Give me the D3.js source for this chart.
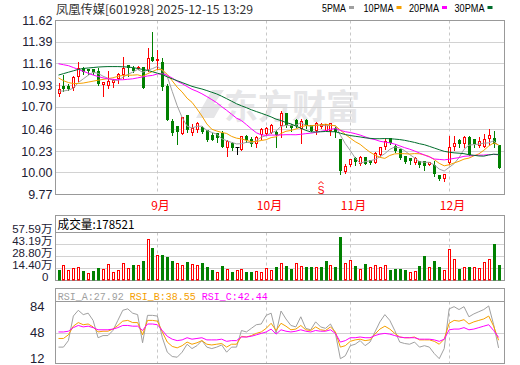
<!DOCTYPE html>
<html>
<head>
<meta charset="utf-8">
<script src="https://cdn.jsdelivr.net/npm/d3@7/dist/d3.min.js"></script>
<style>
  body { margin: 0; background: #fff; }
  svg { display: block; }
  text { font-family: "Liberation Sans", Arial, "Noto Sans CJK SC", sans-serif; }
</style>
</head>
<body>
<svg id="chart" width="520" height="365"></svg>
<script>
// daily candles, 2025-08-04 .. 2025-12-15
const open = [10.84, 10.916, 10.92, 10.91, 11.02, 11.108, 11.10, 11.10, 11.073, 10.935,
  10.93, 10.96, 11.007, 11.05, 11.14, 11.11, 11.11, 11.12, 11.10, 11.223,
  11.20, 11.17, 10.92, 10.55, 10.49, 10.415, 10.61, 10.43, 10.46, 10.48,
  10.45, 10.40, 10.415, 10.42, 10.27, 10.31, 10.275, 10.245, 10.39, 10.36,
  10.31, 10.41, 10.42, 10.43, 10.43, 10.50, 10.627, 10.50, 10.56, 10.47,
  10.56, 10.50, 10.45, 10.49, 10.45, 10.45, 10.47, 10.35, 10.01, 10.085,
  10.155, 10.096, 10.16, 10.13, 10.113, 10.19, 10.28, 10.362, 10.28, 10.245,
  10.174, 10.15, 10.114, 10.124, 10.124, 10.09, 10.078, 9.97, 9.937, 10.11,
  10.28, 10.344, 10.31, 10.38, 10.35, 10.29, 10.28, 10.362, 10.362, 10.29]
const high = [10.96, 11.04, 10.95, 11.03, 11.18, 11.125, 11.10, 11.10, 11.12, 10.96,
  11.08, 11.00, 11.065, 11.23, 11.14, 11.135, 11.135, 11.13, 11.33, 11.495,
  11.31, 11.22, 10.945, 10.575, 10.50, 10.59, 10.62, 10.52, 10.54, 10.50,
  10.46, 10.42, 10.42, 10.45, 10.35, 10.33, 10.28, 10.39, 10.40, 10.38,
  10.39, 10.48, 10.49, 10.515, 10.46, 10.66, 10.635, 10.52, 10.57, 10.575,
  10.57, 10.51, 10.54, 10.53, 10.52, 10.53, 10.49, 10.36, 10.095, 10.15,
  10.17, 10.18, 10.17, 10.135, 10.22, 10.28, 10.36, 10.365, 10.31, 10.25,
  10.18, 10.155, 10.167, 10.13, 10.13, 10.12, 10.13, 9.98, 9.99, 10.39,
  10.397, 10.36, 10.397, 10.39, 10.36, 10.38, 10.415, 10.468, 10.45, 10.30]
const low = [10.82, 10.87, 10.88, 10.88, 10.98, 11.05, 11.055, 11.05, 10.93, 10.82,
  10.90, 10.91, 10.96, 11.01, 11.03, 11.07, 11.10, 10.90, 11.08, 11.19,
  11.10, 10.885, 10.565, 10.40, 10.31, 10.41, 10.43, 10.40, 10.43, 10.42,
  10.34, 10.345, 10.33, 10.27, 10.175, 10.24, 10.196, 10.24, 10.33, 10.29,
  10.27, 10.36, 10.40, 10.42, 10.27, 10.38, 10.485, 10.45, 10.49, 10.32,
  10.48, 10.44, 10.415, 10.48, 10.44, 10.40, 10.38, 9.99, 10.00, 10.07,
  10.08, 10.08, 10.09, 10.09, 10.10, 10.18, 10.255, 10.31, 10.22, 10.15,
  10.11, 10.09, 10.096, 10.06, 10.03, 10.08, 9.97, 9.92, 9.91, 10.09,
  10.24, 10.28, 10.28, 10.195, 10.28, 10.27, 10.27, 10.31, 10.28, 10.05]
const close = [10.885, 10.895, 10.90, 11.01, 11.108, 11.08, 11.085, 11.065, 10.95, 10.96,
  10.97, 10.985, 11.05, 11.11, 11.12, 11.09, 11.125, 10.91, 11.216, 11.198,
  11.21, 10.92, 10.57, 10.43, 10.44, 10.585, 10.46, 10.47, 10.52, 10.445,
  10.36, 10.355, 10.38, 10.28, 10.337, 10.27, 10.275, 10.39, 10.355, 10.31,
  10.38, 10.46, 10.475, 10.50, 10.41, 10.63, 10.51, 10.48, 10.50, 10.55,
  10.50, 10.45, 10.53, 10.515, 10.51, 10.52, 10.44, 10.02, 10.065, 10.14,
  10.125, 10.166, 10.10, 10.11, 10.209, 10.27, 10.337, 10.326, 10.238, 10.16,
  10.12, 10.13, 10.15, 10.089, 10.078, 10.114, 9.99, 9.937, 9.979, 10.27,
  10.316, 10.31, 10.38, 10.20, 10.31, 10.33, 10.36, 10.397, 10.31, 10.06]

// moving averages as drawn
const ma5 = [10.87, 10.87, 10.88, 10.90, 10.96, 10.999, 11.037, 11.07, 11.058, 11.028,
  11.006, 10.986, 10.983, 11.015, 11.047, 11.071, 11.099, 11.071, 11.092, 11.108,
  11.132, 11.091, 11.023, 10.866, 10.714, 10.589, 10.497, 10.477, 10.495, 10.496,
  10.451, 10.43, 10.412, 10.364, 10.342, 10.324, 10.308, 10.31, 10.325, 10.32,
  10.342, 10.379, 10.396, 10.425, 10.445, 10.495, 10.505, 10.506, 10.506, 10.534,
  10.508, 10.496, 10.506, 10.509, 10.501, 10.505, 10.503, 10.401, 10.311, 10.237,
  10.158, 10.103, 10.119, 10.128, 10.142, 10.171, 10.205, 10.25, 10.276, 10.266,
  10.236, 10.195, 10.16, 10.118, 10.113, 10.112, 10.084, 10.04, 10.02, 10.058,
  10.098, 10.162, 10.25, 10.295, 10.30, 10.306, 10.316, 10.319, 10.341, 10.291]
const ma10 = [11.01, 10.98, 10.96, 10.95, 10.95, 10.955, 10.965, 10.975, 10.985, 10.994,
  11.002, 11.011, 11.026, 11.036, 11.038, 11.039, 11.043, 11.027, 11.054, 11.077,
  11.101, 11.095, 11.047, 10.979, 10.911, 10.860, 10.794, 10.750, 10.680, 10.605,
  10.520, 10.464, 10.445, 10.430, 10.419, 10.388, 10.369, 10.361, 10.345, 10.331,
  10.333, 10.344, 10.353, 10.375, 10.383, 10.419, 10.442, 10.451, 10.466, 10.490,
  10.502, 10.501, 10.506, 10.508, 10.518, 10.507, 10.500, 10.454, 10.410, 10.369,
  10.332, 10.303, 10.260, 10.220, 10.190, 10.165, 10.154, 10.185, 10.202, 10.204,
  10.204, 10.200, 10.205, 10.203, 10.190, 10.174, 10.140, 10.101, 10.075, 10.086,
  10.105, 10.123, 10.146, 10.157, 10.181, 10.202, 10.239, 10.285, 10.318, 10.297]
const ma20 = [11.16, 11.15, 11.14, 11.12, 11.10, 11.08, 11.06, 11.04, 11.025, 11.01,
  11.0, 10.995, 10.99, 10.99, 10.995, 11.0, 11.01, 11.02, 11.03, 11.036,
  11.052, 11.053, 11.037, 11.008, 10.974, 10.949, 10.918, 10.888, 10.867, 10.841,
  10.811, 10.779, 10.746, 10.704, 10.665, 10.624, 10.582, 10.556, 10.513, 10.468,
  10.427, 10.404, 10.399, 10.402, 10.401, 10.403, 10.406, 10.406, 10.405, 10.410,
  10.417, 10.422, 10.430, 10.441, 10.450, 10.463, 10.471, 10.452, 10.438, 10.429,
  10.417, 10.402, 10.383, 10.364, 10.354, 10.336, 10.327, 10.319, 10.306, 10.287,
  10.268, 10.252, 10.233, 10.211, 10.190, 10.169, 10.147, 10.143, 10.138, 10.145,
  10.154, 10.162, 10.176, 10.180, 10.185, 10.188, 10.189, 10.193, 10.197, 10.192]
const ma30 = [11.04, 11.055, 11.07, 11.085, 11.10, 11.11, 11.115, 11.12, 11.125, 11.128,
  11.13, 11.13, 11.13, 11.128, 11.125, 11.12, 11.11, 11.10, 11.09, 11.075,
  11.06, 11.045, 11.02, 11.0, 10.98, 10.96, 10.94, 10.92, 10.905, 10.892,
  10.875, 10.857, 10.839, 10.815, 10.789, 10.762, 10.735, 10.713, 10.693, 10.671,
  10.652, 10.634, 10.615, 10.595, 10.571, 10.556, 10.535, 10.521, 10.497, 10.475,
  10.452, 10.436, 10.435, 10.437, 10.440, 10.438, 10.437, 10.422, 10.407, 10.397,
  10.389, 10.382, 10.373, 10.367, 10.363, 10.363, 10.365, 10.363, 10.359, 10.354,
  10.346, 10.335, 10.324, 10.310, 10.299, 10.282, 10.264, 10.246, 10.229, 10.220,
  10.213, 10.209, 10.204, 10.193, 10.187, 10.180, 10.178, 10.190, 10.198, 10.196]

// volume in 万 shares, colour read per bar (r = up, g = down)
const vol = [12, 18, 12, 14, 15, 11, 8, 11, 14, 13,
  19, 9, 12, 20, 14, 18, 18, 23, 49, 38,
  30, 30, 27, 23, 20, 18, 21, 19, 18, 20,
  16, 12, 9, 17, 13, 9, 12, 13, 9, 9,
  11, 9.3, 14, 12, 15, 20, 17, 13, 20, 17,
  15, 16, 16, 15, 23, 18, 16, 52, 20, 24,
  17, 13, 19, 15, 18, 16, 18, 12, 13, 13,
  12, 9, 11, 17, 29, 15, 23, 16, 12, 37,
  25, 13, 15, 16, 15, 14, 21, 25, 43, 17.85]
const volDir = 'grrrrgrggr' + 'rrrrrgrgrg' + 'rgggrrgrrg' + 'ggrgrgrrgg' + 'rrrrgrggrr' +
  'ggrggrggrr' + 'grgrrrrggg' + 'grrggrggrr' + 'rgrgrrrrgg'

// RSI lines
const rsiA = [29, 29, 38, 72, 80, 74, 76, 66, 42, 45,
  45, 52, 66, 80, 82, 76, 74, 35, 73, 73,
  72, 42, 22, 16, 15, 22, 33, 27, 31, 38,
  29, 27, 29, 32, 22, 29, 29, 52, 50, 55,
  60, 61, 73, 76, 48, 79, 68, 59, 57, 71,
  55, 53, 64, 57, 55, 61, 48, 13, 17, 31,
  33, 38, 31, 36, 50, 64, 74, 66, 52, 36,
  34, 33, 36, 29, 31, 29, 20, 13, 27, 82,
  85, 81, 85, 71, 75, 78, 81, 86, 60, 27.92]
const rsiB = [41, 41, 46, 58, 63, 60, 61, 57, 50, 51,
  51, 54, 59, 65, 66, 63, 63, 46, 66, 66,
  65, 50, 36, 30, 28, 31, 36, 33, 35, 38,
  33, 32, 33, 34, 29, 33, 33, 44, 43, 45,
  48, 50, 55, 62, 52, 62, 58, 53, 54, 59,
  53, 52, 57, 53, 52, 57, 50, 29, 31, 37,
  39, 40, 38, 39, 47, 54, 58, 54, 48, 43,
  42, 42, 43, 39, 39, 39, 37, 33, 40, 62,
  66, 65, 67, 61, 64, 66, 68, 72, 58, 38.55]
const rsiC = [50, 50, 51, 56, 59, 57, 58, 56, 53, 53,
  53, 54, 56, 59, 59, 58, 58, 52, 61, 61,
  60, 52, 44, 40, 38, 39, 42, 40, 41, 42,
  39, 39, 39, 40, 37, 38, 38, 43, 43, 44,
  46, 48, 50, 54, 47, 53, 51, 50, 51, 53,
  51, 50, 52, 51, 51, 53, 48, 36, 38, 42,
  42, 43, 42, 42, 45, 47, 48, 47, 45, 43,
  42, 42, 42, 40, 40, 40, 39, 37, 40, 53,
  54, 54, 56, 53, 54, 56, 58, 60, 52, 42.44]

// axes
const months = ['9月', '10月', '11月', '12月']
const monthIdx = [20, 42, 59, 79]
const priceTicks = [11.62, 11.39, 11.16, 10.93, 10.70, 10.46, 10.23, 10.00, 9.77]
const volTicks = [57.59, 43.19, 28.80, 14.40, 0]
const rsiTicks = [84, 48, 12]
const maNames = ['5PMA', '10PMA', '20PMA', '30PMA']
const lastVol = 178521

const RED = '#ff0000', GREEN = '#008000'
const maColors = ['#a0a0a0', '#f5a000', '#ff00ff', '#006d2c']
const rsiColors = ['#a0a0a0', '#f5a000', '#ff00ff']

const svg = d3.select('#chart')
const L = 55, R = 505
const x = d3.scalePoint().domain(d3.range(close.length)).range([58.5, 498.6])
const px = i => Math.round(x(i)) + 0.5
const snap = v => Math.round(v - 0.5) + 0.5
const y = d3.scaleLinear().domain([9.77, 11.62]).range([194.5, 20.5])
const yv = d3.scaleLinear().domain([0, 57.59]).range([280.5, 232.5])
const yr = d3.scaleLinear().domain([12, 84]).range([359.4, 307.4])

// watermark
const wm = svg.append('g').attr('fill', '#e6e6e8')
wm.append('path').attr('d', 'M196,118 L212,90 L224,90 L214,104 L222,104 L214,118 Z')
wm.append('text').attr('x', 224).attr('y', 119)
  .style('font-family', '"Noto Sans CJK SC"').style('font-weight', 700)
  .attr('font-size', 34).text('东方财富')

// grids
const grid = svg.append('g').attr('stroke', '#d2d2d2').attr('stroke-width', 1)
priceTicks.slice(1, -1).forEach(v => {
  grid.append('line').attr('x1', L).attr('x2', R).attr('y1', snap(y(v))).attr('y2', snap(y(v)))
})
volTicks.slice(1, -1).forEach(v => {
  grid.append('line').attr('x1', L).attr('x2', R).attr('y1', snap(yv(v))).attr('y2', snap(yv(v)))
})
grid.append('line').attr('x1', L).attr('x2', R).attr('y1', snap(yr(48))).attr('y2', snap(yr(48)))
const vgrid = svg.append('g').attr('stroke', '#c8c8c8').attr('stroke-dasharray', '3,3')
monthIdx.forEach(i => {
  [[20.5, 194.5], [232.5, 280.5], [301.5, 363.5]].forEach(r => {
    vgrid.append('line').attr('x1', px(i)).attr('x2', px(i)).attr('y1', r[0]).attr('y2', r[1])
  })
})

// frames
const frame = svg.append('g').attr('fill', 'none').attr('stroke', '#999')
frame.append('rect').attr('x', L + 0.5).attr('y', 20.5).attr('width', R - L - 1).attr('height', 174)
frame.append('rect').attr('x', L + 0.5).attr('y', 215.5).attr('width', R - L - 1).attr('height', 65)
frame.append('line').attr('x1', L).attr('x2', R).attr('y1', 232.5).attr('y2', 232.5)
frame.append('rect').attr('x', L + 0.5).attr('y', 288.5).attr('width', R - L - 1).attr('height', 75)
frame.append('line').attr('x1', L).attr('x2', R).attr('y1', 301.5).attr('y2', 301.5)

// candles
const candles = svg.append('g')
close.forEach((c, i) => {
  const o = open[i]
  const col = c > o ? RED : (c < o ? GREEN : '#000')
  const cx = px(i)
  candles.append('line').attr('x1', cx).attr('x2', cx)
    .attr('y1', Math.round(y(high[i]))).attr('y2', Math.round(y(low[i])) + 1).attr('stroke', col)
  const top = snap(y(Math.max(o, c))), bot = snap(y(Math.min(o, c)))
  if (c > o) {
    candles.append('rect').attr('x', cx - 1).attr('y', top).attr('width', 2)
      .attr('height', Math.max(bot - top, 1)).attr('fill', '#fff').attr('stroke', RED)
  } else if (c < o) {
    candles.append('rect').attr('x', cx - 1.5).attr('y', top - 0.5).attr('width', 3)
      .attr('height', Math.max(bot - top + 1, 1)).attr('fill', GREEN)
  } else {
    candles.append('line').attr('x1', cx - 2).attr('x2', cx + 2).attr('y1', top).attr('y2', top)
      .attr('stroke', '#000')
  }
})

// moving averages
const maLine = d3.line().x((d, i) => x(i)).y(d => y(d))
;[ma5, ma10, ma20, ma30].forEach((s, k) => {
  svg.append('path').datum(s).attr('d', maLine).attr('fill', 'none')
    .attr('stroke', maColors[k]).attr('stroke-width', 1)
})

// volume bars
const vb = svg.append('g')
vol.forEach((v, i) => {
  const cx = px(i), top = snap(yv(v))
  if (volDir[i] === 'r') {
    vb.append('rect').attr('x', cx - 1).attr('y', top).attr('width', 2)
      .attr('height', 280 - top).attr('fill', '#fff').attr('stroke', RED)
  } else {
    vb.append('rect').attr('x', cx - 1.5).attr('y', top - 0.5).attr('width', 3)
      .attr('height', 281 - top).attr('fill', GREEN)
  }
})

// rsi lines
const rsiLine = d3.line().x((d, i) => x(i)).y(d => yr(d))
;[rsiA, rsiB, rsiC].forEach((s, k) => {
  svg.append('path').datum(s).attr('d', rsiLine).attr('fill', 'none')
    .attr('stroke', rsiColors[k]).attr('stroke-width', 1)
})

// signal mark
svg.append('path').attr('d', 'M318.5,184 L321,181.5 L323.5,184').attr('fill', 'none').attr('stroke', RED)
svg.append('text').attr('x', 321).attr('y', 193.5).attr('text-anchor', 'middle')
  .attr('font-size', 10).attr('fill', RED).text('S')

// axis labels
const lab = svg.append('g').attr('fill', '#1c2033')
priceTicks.forEach(v => {
  lab.append('text').attr('x', 52.5).attr('y', y(v) + 4.3).attr('text-anchor', 'end')
    .attr('font-size', 12.5).text(v.toFixed(2))
})
volTicks.forEach(v => {
  lab.append('text').attr('x', v === 0 ? 48.5 : 52.5).attr('y', yv(v) + 0.8).attr('text-anchor', 'end')
    .attr('font-size', 11.5).text(v === 0 ? '0' : v.toFixed(2) + '万')
})
rsiTicks.forEach(v => {
  lab.append('text').attr('x', 44.5).attr('y', yr(v) + 3.3).attr('text-anchor', 'end')
    .attr('font-size', 13).text(v)
})
monthIdx.forEach((i, k) => {
  svg.append('text').attr('x', px(i) + 3).attr('y', 210).attr('text-anchor', 'middle')
    .style('font-family', '"Noto Sans CJK SC"').attr('font-size', 12).attr('fill', RED).text(months[k])
})

// title and legends
svg.append('text').attr('x', 56).attr('y', 13.5).style('font-family', '"Noto Sans CJK SC"')
  .attr('font-size', 12).attr('fill', '#333').attr('textLength', 197).attr('lengthAdjust', 'spacingAndGlyphs')
  .text('凤凰传媒[601928] 2025-12-15 13:29')
const legX = [322, 363.5, 409, 454.5]
maNames.forEach((n, k) => {
  const w = n.length * 6
  svg.append('text').attr('x', legX[k]).attr('y', 12).attr('font-size', 11).attr('fill', '#000')
    .attr('textLength', w).attr('lengthAdjust', 'spacingAndGlyphs').text(n)
  svg.append('rect').attr('x', legX[k] + w + 3).attr('y', 6).attr('width', 5).attr('height', 3)
    .attr('fill', maColors[k])
})
svg.append('text').attr('x', 57.5).attr('y', 229).style('font-family', '"Noto Sans CJK SC"')
  .attr('font-size', 12).attr('fill', '#000').attr('textLength', 77).attr('lengthAdjust', 'spacingAndGlyphs')
  .text('成交量:' + lastVol)
const rsiLast = [rsiA, rsiB, rsiC].map(s => s[s.length - 1].toFixed(2))
;['RSI_A', 'RSI_B', 'RSI_C'].forEach((n, k) => {
  svg.append('text').attr('x', 57.7 + k * 72).attr('y', 299.5)
    .style('font-family', '"Liberation Mono", monospace').attr('font-size', 11.5)
    .attr('fill', rsiColors[k]).attr('textLength', 66).attr('lengthAdjust', 'spacingAndGlyphs')
    .text(n + ':' + rsiLast[k])
})
</script>
</body>
</html>
